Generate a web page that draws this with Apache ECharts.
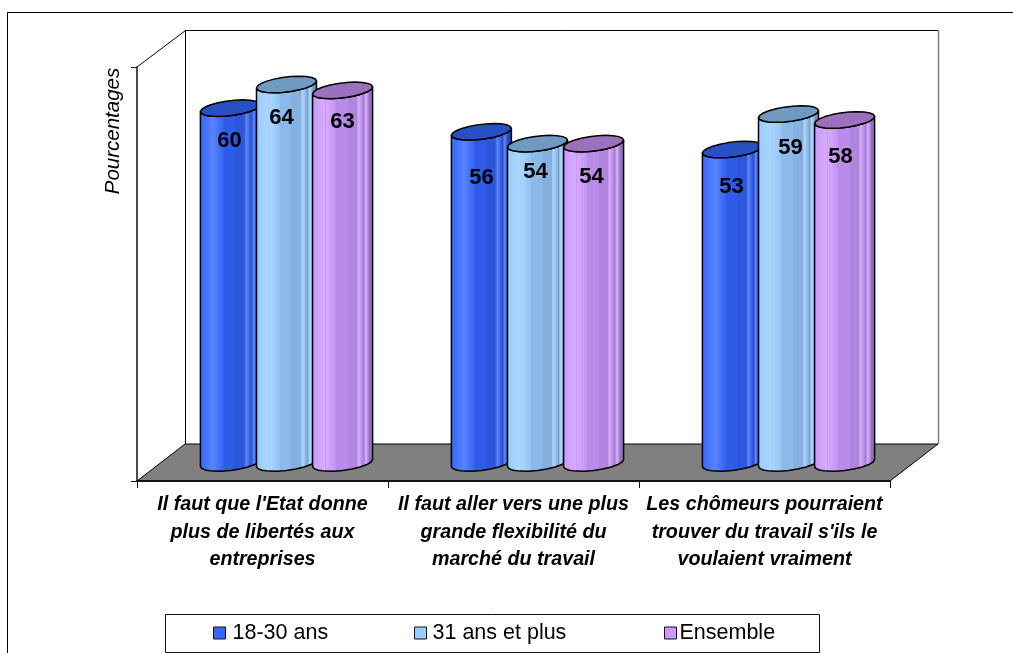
<!DOCTYPE html>
<html><head><meta charset="utf-8">
<style>html,body{margin:0;padding:0;background:#fff}#c{width:1013px;height:653px}</style>
<script src="https://cdn.jsdelivr.net/npm/echarts@6/dist/echarts.min.js"></script>
</head><body><div id="c"></div>
<script>
const categories = ["Il faut que l'Etat donne\nplus de libertés aux\nentreprises", "Il faut aller vers une plus\ngrande flexibilité du\nmarché du travail", "Les chômeurs pourraient\ntrouver du travail s'ils le\nvoulaient vraiment"];
const seriesNames = ['18-30 ans', '31 ans et plus', 'Ensemble'];
const jeunes = [60, 56, 53];
const adultes = [64, 54, 59];
const ensemble = [63, 54, 58];
const axisTitle = 'Pourcentages';

const F = '"Liberation Sans", Arial, sans-serif';
const BASE = ['#3366ff', '#99ccff', '#cc99ff'];
const DARK = ['#2447b8', '#6e95bf', '#9670bd'];
const TOP = ['#2850c0', '#7099c0', '#9b70bd'];
// placement of each printed number relative to its bar top: [dx, dy]
const labelNudge = [
  [[-1, 33], [-5, 33], [0, 32]],
  [[0, 46], [-2, 28], [-2, 33]],
  [[-1, 37], [2, 34], [-4, 37]]
];
function hex(c){return [1,3,5].map(i=>parseInt(c.substr(i,2),16));}
function mix(a,b,t){const A=hex(a),B=hex(b);return 'rgb('+A.map((v,i)=>Math.round(v+(B[i]-v)*t)).join(',')+')';}
function bandGradient(s){
  const edges=[0,.22,.4,.58,.72,.84,.93,1], out=[];
  for(let i=0;i<edges.length-1;i++){
    const col=mix(BASE[s],DARK[s],i/(edges.length-2));
    out.push({offset:edges[i],color:col},{offset:edges[i+1],color:col});
  }
  [.22,.76,.88].forEach(p=>{
    const c=mix(BASE[s],'#ffffff',.18);
    out.push({offset:p-.005,color:c},{offset:p+.005,color:c});
  });
  out.sort((a,b)=>a.offset-b.offset);
  return new echarts.graphic.LinearGradient(0,0,1,0,out);
}
function ellipsePts(cx,cy,a,b,tilt,from,to,n){
  const r=[];
  for(let i=0;i<=n;i++){
    const t=from+(to-from)*i/n;
    r.push([cx+a*Math.cos(t),cy-tilt*Math.cos(t)+b*Math.sin(t)]);
  }
  return r;
}
function cylinder(s){
  return function(params,api){
    const idx=api.value(0), val=api.value(1);
    const band=api.size([1,0])[0];
    const w=band*0.239, step=band*0.2235;
    const top=api.coord([idx,val]), bot=api.coord([idx,0]);
    const cx=top[0]+(s-1)*step, a=w/2, b=7.5, tilt=3.5;
    const front=ellipsePts(cx,top[1],a,b,tilt,Math.PI,0,10);
    const under=ellipsePts(cx,bot[1],a,b,tilt,0,Math.PI,10);
    const cap=ellipsePts(cx,top[1],a,b,tilt,0,Math.PI*2,22);
    const nudge=labelNudge[idx][s];
    return {type:'group',children:[
      {type:'polygon',shape:{points:front.concat(under)},
       style:{fill:bandGradient(s),stroke:'#000',lineWidth:1.5,lineJoin:'round'}},
      {type:'polygon',shape:{points:cap},
       style:{fill:TOP[s],stroke:'#000',lineWidth:1.5,lineJoin:'round'}},
      {type:'text',style:{x:cx+nudge[0],y:top[1]+nudge[1],text:String(val),align:'center',verticalAlign:'middle',
        fill:'#000',font:'bold 22px '+F}}
    ]};
  };
}
const values=[jeunes,adultes,ensemble];
const chart=echarts.init(document.getElementById('c'),null,{renderer:'canvas'});
const legendLeft=[213,414,664];
chart.setOption({
  animation:false,
  backgroundColor:'#fff',
  grid:[
    {left:137,right:123,top:67,bottom:172},
    {left:161,right:99,top:49,bottom:190}
  ],
  xAxis:[
    {type:'category',gridIndex:0,data:categories,boundaryGap:true,z:3,
     axisLine:{show:true,lineStyle:{color:'#111',width:2}},
     axisTick:{show:true,alignWithLabel:false,length:7,lineStyle:{color:'#111',width:1}},
     axisLabel:{interval:0,margin:10,fontFamily:F,fontSize:19.7,fontWeight:'bold',fontStyle:'italic',color:'#000',lineHeight:27.5,align:'center'}},
    {type:'category',gridIndex:1,data:categories,show:false}
  ],
  yAxis:[
    {type:'value',gridIndex:0,min:0,max:70,interval:70,z:3,
     axisLine:{show:true,lineStyle:{color:'#111',width:1.5}},
     axisTick:{show:true,length:6,lineStyle:{color:'#111',width:1}},
     axisLabel:{show:false},splitLine:{show:false}},
    {type:'value',gridIndex:1,min:0,max:70,interval:70,show:false,splitLine:{show:false}}
  ],
  legend:seriesNames.map((n,i)=>({
    data:[n],left:legendLeft[i],top:622,orient:'horizontal',
    itemWidth:12,itemHeight:12,itemGap:0,padding:0,
    icon:'rect',itemStyle:{borderColor:'#111',borderWidth:1},
    textStyle:{fontFamily:F,fontSize:21.5,color:'#000',padding:[0,0,0,i===2?-2:(i===1?1:2)]}
  })),
  graphic:{elements:[
    {type:'polyline',z:0,shape:{points:[[7.5,653],[7.5,12.5],[1013,12.5]]},style:{stroke:'#000',lineWidth:1,fill:null}},
    {type:'polygon',z:0,shape:{points:[[137,481],[185,444],[938,444],[890,481]]},style:{fill:'#808080',stroke:'#000',lineWidth:1}},
    {type:'polyline',z:0,shape:{points:[[137,67],[185.5,30.5],[938,30.5]]},style:{stroke:'#000',lineWidth:1,fill:null}},
    {type:'line',z:0,shape:{x1:185.5,y1:30,x2:185.5,y2:444},style:{stroke:'#000',lineWidth:1}},
    {type:'line',z:0,shape:{x1:938.5,y1:30,x2:938.5,y2:444},style:{stroke:'#808080',lineWidth:1.5}},
    {type:'rect',z:0,shape:{x:165.5,y:614.5,width:654,height:38},style:{fill:'#fff',stroke:'#111',lineWidth:1}},
    {type:'text',z:5,x:113,y:131,rotation:Math.PI/2,
     style:{text:axisTitle,align:'center',verticalAlign:'middle',fill:'#000',font:'italic 20.5px '+F}}
  ]},
  series:seriesNames.map((n,s)=>({
    name:n,type:'custom',xAxisIndex:1,yAxisIndex:1,clip:false,z:2,
    itemStyle:{color:BASE[s]},
    encode:{x:0,y:1},
    renderItem:cylinder(s),
    data:values[s].map((v,i)=>[i,v])
  }))
});
</script></body></html>
